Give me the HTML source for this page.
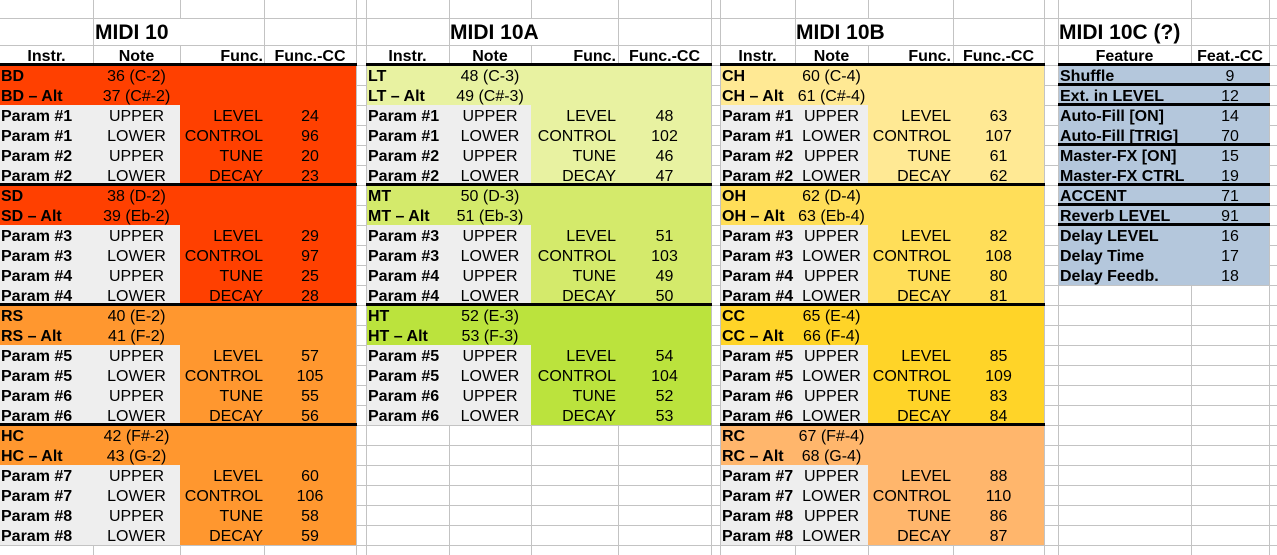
<!DOCTYPE html>
<html><head><meta charset="utf-8">
<style>
body{margin:0;width:1277px;height:555px;position:relative;overflow:hidden;background:#fff;font-family:"Liberation Sans",Arial,sans-serif;font-size:16px;color:#000}
.v{position:absolute;top:0;width:1px;height:555px;background:#c3c3c3}
.h{position:absolute;left:0;width:1277px;height:1px;background:#c3c3c3}
.f{position:absolute}
.k{position:absolute;height:3px;background:#000}
.t{position:absolute;top:66px}
.hd{position:absolute;top:46px;font-weight:bold}
.r{display:flex;height:20px;line-height:21px;white-space:nowrap}
.r span{display:block;flex:none;overflow:visible;box-sizing:border-box}
.a{font-weight:bold;padding-left:2px}
.n{text-align:center}
.fn{text-align:right;padding-right:2px}
.cc{text-align:center}
.t1 .a{width:93px;padding-left:1px}.t1 .n{width:87px}.t1 .fn{width:84px;padding-right:1px}.t1 .cc{width:92px}
.t2 .a{width:83px}.t2 .n{width:82px}.t2 .fn{width:87px}.t2 .cc{width:93px}
.t3 .a{width:75px}.t3 .n{width:73px}.t3 .fn{width:85px}.t3 .cc{width:91px}
.t4 .a{width:133px}.t4 .cc{width:78px}
.hd .a{padding-left:0;text-align:center}
.ti{position:absolute;top:22px;font-weight:bold;font-size:21px;line-height:21px;white-space:nowrap}
</style></head><body>
<!-- vertical gridlines -->
<div class="v" style="left:93px"></div><div class="v" style="left:180px"></div><div class="v" style="left:264px"></div><div class="v" style="left:356px"></div><div class="v" style="left:366px"></div><div class="v" style="left:449px"></div><div class="v" style="left:531px"></div><div class="v" style="left:618px"></div><div class="v" style="left:711px"></div><div class="v" style="left:720px"></div><div class="v" style="left:795px"></div><div class="v" style="left:868px"></div><div class="v" style="left:953px"></div><div class="v" style="left:1044px"></div><div class="v" style="left:1058px"></div><div class="v" style="left:1191px"></div><div class="v" style="left:1269px"></div>
<!-- horizontal gridlines -->
<div class="h" style="top:18px"></div><div class="h" style="top:45px"></div><div class="h" style="top:65px"></div><div class="h" style="top:85px"></div><div class="h" style="top:105px"></div><div class="h" style="top:125px"></div><div class="h" style="top:145px"></div><div class="h" style="top:165px"></div><div class="h" style="top:185px"></div><div class="h" style="top:205px"></div><div class="h" style="top:225px"></div><div class="h" style="top:245px"></div><div class="h" style="top:265px"></div><div class="h" style="top:285px"></div><div class="h" style="top:305px"></div><div class="h" style="top:325px"></div><div class="h" style="top:345px"></div><div class="h" style="top:365px"></div><div class="h" style="top:385px"></div><div class="h" style="top:405px"></div><div class="h" style="top:425px"></div><div class="h" style="top:445px"></div><div class="h" style="top:465px"></div><div class="h" style="top:485px"></div><div class="h" style="top:505px"></div><div class="h" style="top:525px"></div><div class="h" style="top:545px"></div>
<!-- hide lines in title row -->
<div class="f" style="left:180px;top:19px;width:1px;height:26px;background:#fff"></div>
<div class="f" style="left:531px;top:19px;width:1px;height:26px;background:#fff"></div>
<div class="f" style="left:868px;top:19px;width:1px;height:26px;background:#fff"></div>

<!-- fills T1 -->
<div class="f" style="left:0;top:65px;width:356px;height:240px;background:#ff4000"></div>
<div class="f" style="left:0;top:305px;width:356px;height:240px;background:#ff972f"></div>
<div class="f" style="left:0;top:105px;width:180px;height:80px;background:#eeeeee"></div>
<div class="f" style="left:0;top:225px;width:180px;height:80px;background:#eeeeee"></div>
<div class="f" style="left:0;top:345px;width:180px;height:80px;background:#eeeeee"></div>
<div class="f" style="left:0;top:465px;width:180px;height:80px;background:#eeeeee"></div>
<!-- fills T2 -->
<div class="f" style="left:367px;top:65px;width:344px;height:120px;background:#e8f2a1"></div>
<div class="f" style="left:367px;top:185px;width:344px;height:120px;background:#d4ea6b"></div>
<div class="f" style="left:367px;top:305px;width:344px;height:120px;background:#bbe33d"></div>
<div class="f" style="left:367px;top:105px;width:164px;height:80px;background:#eeeeee"></div>
<div class="f" style="left:367px;top:225px;width:164px;height:80px;background:#eeeeee"></div>
<div class="f" style="left:367px;top:345px;width:164px;height:80px;background:#eeeeee"></div>
<!-- fills T3 -->
<div class="f" style="left:721px;top:65px;width:323px;height:120px;background:#ffe994"></div>
<div class="f" style="left:721px;top:185px;width:323px;height:120px;background:#ffde59"></div>
<div class="f" style="left:721px;top:305px;width:323px;height:120px;background:#ffd428"></div>
<div class="f" style="left:721px;top:425px;width:323px;height:120px;background:#ffb66c"></div>
<div class="f" style="left:721px;top:105px;width:147px;height:80px;background:#eeeeee"></div>
<div class="f" style="left:721px;top:225px;width:147px;height:80px;background:#eeeeee"></div>
<div class="f" style="left:721px;top:345px;width:147px;height:80px;background:#eeeeee"></div>
<div class="f" style="left:721px;top:465px;width:147px;height:80px;background:#eeeeee"></div>
<!-- fills T4 -->
<div class="f" style="left:1059px;top:65px;width:210px;height:220px;background:#b4c7dc"></div>

<!-- thick lines -->
<div class="k" style="left:0;top:63px;width:357px"></div>
<div class="k" style="left:0;top:183px;width:357px"></div>
<div class="k" style="left:0;top:303px;width:357px"></div>
<div class="k" style="left:0;top:423px;width:357px"></div>
<div class="k" style="left:366px;top:63px;width:346px"></div>
<div class="k" style="left:366px;top:183px;width:346px"></div>
<div class="k" style="left:366px;top:303px;width:346px"></div>
<div class="k" style="left:720px;top:63px;width:325px"></div>
<div class="k" style="left:720px;top:183px;width:325px"></div>
<div class="k" style="left:720px;top:303px;width:325px"></div>
<div class="k" style="left:720px;top:423px;width:325px"></div>
<div class="k" style="left:1058px;top:63px;width:212px"></div>
<div class="k" style="left:1058px;top:83px;width:212px"></div>
<div class="k" style="left:1058px;top:103px;width:212px"></div>
<div class="k" style="left:1058px;top:143px;width:212px"></div>
<div class="k" style="left:1058px;top:183px;width:212px"></div>
<div class="k" style="left:1058px;top:203px;width:212px"></div>
<div class="k" style="left:1058px;top:223px;width:212px"></div>

<!-- titles -->
<div class="ti" style="left:95px">MIDI 10</div>
<div class="ti" style="left:450px">MIDI 10A</div>
<div class="ti" style="left:796px">MIDI 10B</div>
<div class="ti" style="left:1059px">MIDI 10C (?)</div>

<!-- headers -->
<div class="hd t1" style="left:0"><div class="r"><span class="a">Instr.</span><span class="n">Note</span><span class="fn">Func.</span><span class="cc">Func.-CC</span></div></div>
<div class="hd t2" style="left:366px"><div class="r"><span class="a">Instr.</span><span class="n">Note</span><span class="fn">Func.</span><span class="cc">Func.-CC</span></div></div>
<div class="hd t3" style="left:720px"><div class="r"><span class="a">Instr.</span><span class="n">Note</span><span class="fn">Func.</span><span class="cc">Func.-CC</span></div></div>
<div class="hd t4" style="left:1058px"><div class="r"><span class="a">Feature</span><span class="cc">Feat.-CC</span></div></div>

<!-- T1 -->
<div class="t t1" style="left:0">
<div class="r"><span class="a">BD</span><span class="n">36 (C-2)</span></div>
<div class="r"><span class="a">BD – Alt</span><span class="n">37 (C#-2)</span></div>
<div class="r"><span class="a">Param #1</span><span class="n">UPPER</span><span class="fn">LEVEL</span><span class="cc">24</span></div>
<div class="r"><span class="a">Param #1</span><span class="n">LOWER</span><span class="fn">CONTROL</span><span class="cc">96</span></div>
<div class="r"><span class="a">Param #2</span><span class="n">UPPER</span><span class="fn">TUNE</span><span class="cc">20</span></div>
<div class="r"><span class="a">Param #2</span><span class="n">LOWER</span><span class="fn">DECAY</span><span class="cc">23</span></div>
<div class="r"><span class="a">SD</span><span class="n">38 (D-2)</span></div>
<div class="r"><span class="a">SD – Alt</span><span class="n">39 (Eb-2)</span></div>
<div class="r"><span class="a">Param #3</span><span class="n">UPPER</span><span class="fn">LEVEL</span><span class="cc">29</span></div>
<div class="r"><span class="a">Param #3</span><span class="n">LOWER</span><span class="fn">CONTROL</span><span class="cc">97</span></div>
<div class="r"><span class="a">Param #4</span><span class="n">UPPER</span><span class="fn">TUNE</span><span class="cc">25</span></div>
<div class="r"><span class="a">Param #4</span><span class="n">LOWER</span><span class="fn">DECAY</span><span class="cc">28</span></div>
<div class="r"><span class="a">RS</span><span class="n">40 (E-2)</span></div>
<div class="r"><span class="a">RS – Alt</span><span class="n">41 (F-2)</span></div>
<div class="r"><span class="a">Param #5</span><span class="n">UPPER</span><span class="fn">LEVEL</span><span class="cc">57</span></div>
<div class="r"><span class="a">Param #5</span><span class="n">LOWER</span><span class="fn">CONTROL</span><span class="cc">105</span></div>
<div class="r"><span class="a">Param #6</span><span class="n">UPPER</span><span class="fn">TUNE</span><span class="cc">55</span></div>
<div class="r"><span class="a">Param #6</span><span class="n">LOWER</span><span class="fn">DECAY</span><span class="cc">56</span></div>
<div class="r"><span class="a">HC</span><span class="n">42 (F#-2)</span></div>
<div class="r"><span class="a">HC – Alt</span><span class="n">43 (G-2)</span></div>
<div class="r"><span class="a">Param #7</span><span class="n">UPPER</span><span class="fn">LEVEL</span><span class="cc">60</span></div>
<div class="r"><span class="a">Param #7</span><span class="n">LOWER</span><span class="fn">CONTROL</span><span class="cc">106</span></div>
<div class="r"><span class="a">Param #8</span><span class="n">UPPER</span><span class="fn">TUNE</span><span class="cc">58</span></div>
<div class="r"><span class="a">Param #8</span><span class="n">LOWER</span><span class="fn">DECAY</span><span class="cc">59</span></div>
</div>

<!-- T2 -->
<div class="t t2" style="left:366px">
<div class="r"><span class="a">LT</span><span class="n">48 (C-3)</span></div>
<div class="r"><span class="a">LT – Alt</span><span class="n">49 (C#-3)</span></div>
<div class="r"><span class="a">Param #1</span><span class="n">UPPER</span><span class="fn">LEVEL</span><span class="cc">48</span></div>
<div class="r"><span class="a">Param #1</span><span class="n">LOWER</span><span class="fn">CONTROL</span><span class="cc">102</span></div>
<div class="r"><span class="a">Param #2</span><span class="n">UPPER</span><span class="fn">TUNE</span><span class="cc">46</span></div>
<div class="r"><span class="a">Param #2</span><span class="n">LOWER</span><span class="fn">DECAY</span><span class="cc">47</span></div>
<div class="r"><span class="a">MT</span><span class="n">50 (D-3)</span></div>
<div class="r"><span class="a">MT – Alt</span><span class="n">51 (Eb-3)</span></div>
<div class="r"><span class="a">Param #3</span><span class="n">UPPER</span><span class="fn">LEVEL</span><span class="cc">51</span></div>
<div class="r"><span class="a">Param #3</span><span class="n">LOWER</span><span class="fn">CONTROL</span><span class="cc">103</span></div>
<div class="r"><span class="a">Param #4</span><span class="n">UPPER</span><span class="fn">TUNE</span><span class="cc">49</span></div>
<div class="r"><span class="a">Param #4</span><span class="n">LOWER</span><span class="fn">DECAY</span><span class="cc">50</span></div>
<div class="r"><span class="a">HT</span><span class="n">52 (E-3)</span></div>
<div class="r"><span class="a">HT – Alt</span><span class="n">53 (F-3)</span></div>
<div class="r"><span class="a">Param #5</span><span class="n">UPPER</span><span class="fn">LEVEL</span><span class="cc">54</span></div>
<div class="r"><span class="a">Param #5</span><span class="n">LOWER</span><span class="fn">CONTROL</span><span class="cc">104</span></div>
<div class="r"><span class="a">Param #6</span><span class="n">UPPER</span><span class="fn">TUNE</span><span class="cc">52</span></div>
<div class="r"><span class="a">Param #6</span><span class="n">LOWER</span><span class="fn">DECAY</span><span class="cc">53</span></div>
</div>

<!-- T3 -->
<div class="t t3" style="left:720px">
<div class="r"><span class="a">CH</span><span class="n">60 (C-4)</span></div>
<div class="r"><span class="a">CH – Alt</span><span class="n">61 (C#-4)</span></div>
<div class="r"><span class="a">Param #1</span><span class="n">UPPER</span><span class="fn">LEVEL</span><span class="cc">63</span></div>
<div class="r"><span class="a">Param #1</span><span class="n">LOWER</span><span class="fn">CONTROL</span><span class="cc">107</span></div>
<div class="r"><span class="a">Param #2</span><span class="n">UPPER</span><span class="fn">TUNE</span><span class="cc">61</span></div>
<div class="r"><span class="a">Param #2</span><span class="n">LOWER</span><span class="fn">DECAY</span><span class="cc">62</span></div>
<div class="r"><span class="a">OH</span><span class="n">62 (D-4)</span></div>
<div class="r"><span class="a">OH – Alt</span><span class="n">63 (Eb-4)</span></div>
<div class="r"><span class="a">Param #3</span><span class="n">UPPER</span><span class="fn">LEVEL</span><span class="cc">82</span></div>
<div class="r"><span class="a">Param #3</span><span class="n">LOWER</span><span class="fn">CONTROL</span><span class="cc">108</span></div>
<div class="r"><span class="a">Param #4</span><span class="n">UPPER</span><span class="fn">TUNE</span><span class="cc">80</span></div>
<div class="r"><span class="a">Param #4</span><span class="n">LOWER</span><span class="fn">DECAY</span><span class="cc">81</span></div>
<div class="r"><span class="a">CC</span><span class="n">65 (E-4)</span></div>
<div class="r"><span class="a">CC – Alt</span><span class="n">66 (F-4)</span></div>
<div class="r"><span class="a">Param #5</span><span class="n">UPPER</span><span class="fn">LEVEL</span><span class="cc">85</span></div>
<div class="r"><span class="a">Param #5</span><span class="n">LOWER</span><span class="fn">CONTROL</span><span class="cc">109</span></div>
<div class="r"><span class="a">Param #6</span><span class="n">UPPER</span><span class="fn">TUNE</span><span class="cc">83</span></div>
<div class="r"><span class="a">Param #6</span><span class="n">LOWER</span><span class="fn">DECAY</span><span class="cc">84</span></div>
<div class="r"><span class="a">RC</span><span class="n">67 (F#-4)</span></div>
<div class="r"><span class="a">RC – Alt</span><span class="n">68 (G-4)</span></div>
<div class="r"><span class="a">Param #7</span><span class="n">UPPER</span><span class="fn">LEVEL</span><span class="cc">88</span></div>
<div class="r"><span class="a">Param #7</span><span class="n">LOWER</span><span class="fn">CONTROL</span><span class="cc">110</span></div>
<div class="r"><span class="a">Param #8</span><span class="n">UPPER</span><span class="fn">TUNE</span><span class="cc">86</span></div>
<div class="r"><span class="a">Param #8</span><span class="n">LOWER</span><span class="fn">DECAY</span><span class="cc">87</span></div>
</div>

<!-- T4 -->
<div class="t t4" style="left:1058px">
<div class="r"><span class="a">Shuffle</span><span class="cc">9</span></div>
<div class="r"><span class="a">Ext. in LEVEL</span><span class="cc">12</span></div>
<div class="r"><span class="a">Auto-Fill [ON]</span><span class="cc">14</span></div>
<div class="r"><span class="a">Auto-Fill [TRIG]</span><span class="cc">70</span></div>
<div class="r"><span class="a">Master-FX [ON]</span><span class="cc">15</span></div>
<div class="r"><span class="a">Master-FX CTRL</span><span class="cc">19</span></div>
<div class="r"><span class="a">ACCENT</span><span class="cc">71</span></div>
<div class="r"><span class="a">Reverb LEVEL</span><span class="cc">91</span></div>
<div class="r"><span class="a">Delay LEVEL</span><span class="cc">16</span></div>
<div class="r"><span class="a">Delay Time</span><span class="cc">17</span></div>
<div class="r"><span class="a">Delay Feedb.</span><span class="cc">18</span></div>
</div>
</body></html>
